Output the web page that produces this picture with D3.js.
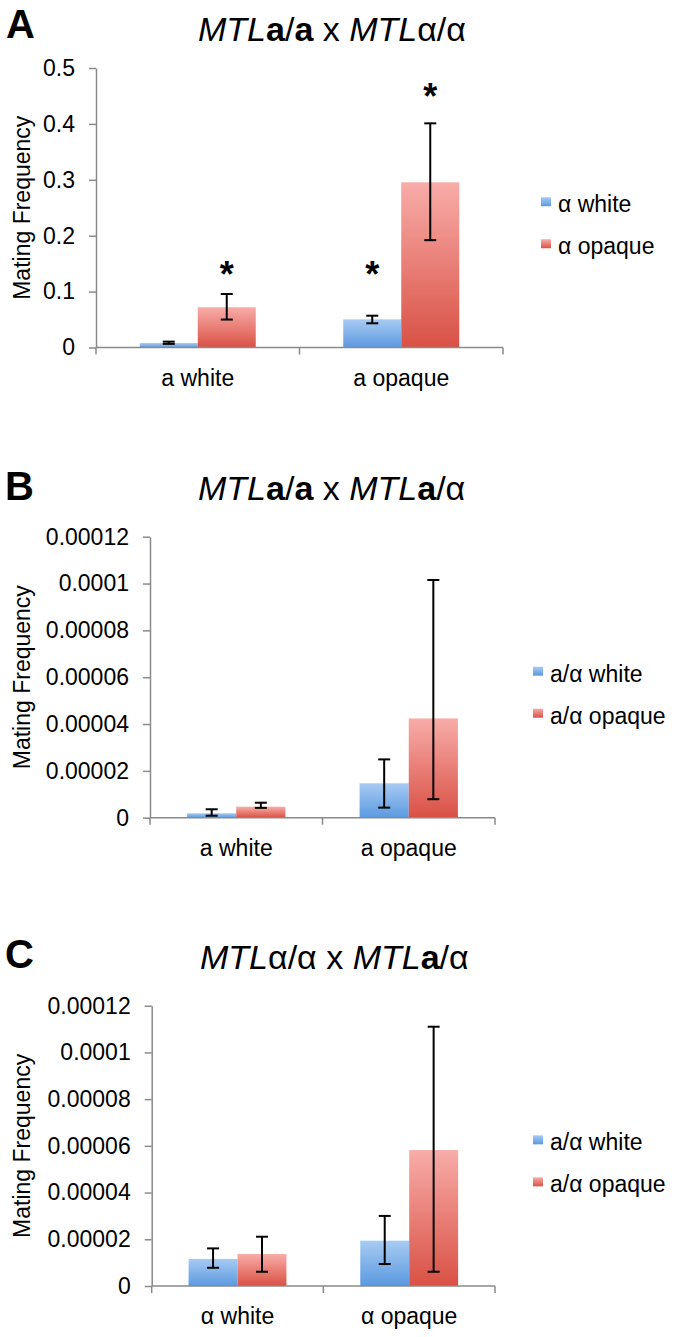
<!DOCTYPE html>
<html><head><meta charset="utf-8">
<script src="https://cdn.jsdelivr.net/npm/d3@7"></script>
<style>
html,body{margin:0;padding:0;background:#fff;}
svg{display:block;font-family:"Liberation Sans",Arial,Helvetica,sans-serif;}
</style></head>
<body>
<svg id="chart" width="676" height="1337"></svg>
<script>
// ---------- DATA ----------
const panelA_categories = ["a white", "a opaque"];
const panelA_series = ["α white", "α opaque"];
const panelA_white = [0.008, 0.0504];
const panelA_opaque = [0.072, 0.2955];
const panelA_whiteErr = [[0.0065, 0.0105], [0.0433, 0.0569]];
const panelA_opaqueErr = [[0.050, 0.0957], [0.192, 0.401]];
const panelA_whiteStars = [null, 0.144];
const panelA_opaqueStars = [0.144, 0.462];
const panelA_ticks = [0, 0.1, 0.2, 0.3, 0.4, 0.5];
const panelA_tickLabels = ["0", "0.1", "0.2", "0.3", "0.4", "0.5"];

const panelB_categories = ["a white", "a opaque"];
const panelB_series = ["a/α white", "a/α opaque"];
const panelB_white = [0.0000019, 0.0000147];
const panelB_opaque = [0.0000047, 0.0000424];
const panelB_whiteErr = [[0.00000085, 0.0000036], [0.0000043, 0.0000249]];
const panelB_opaqueErr = [[0.0000042, 0.0000064], [0.0000079, 0.0001015]];

const panelC_categories = ["α white", "α opaque"];
const panelC_series = ["a/α white", "a/α opaque"];
const panelC_white = [0.0000116, 0.0000194];
const panelC_opaque = [0.0000137, 0.0000582];
const panelC_whiteErr = [[0.0000078, 0.0000161], [0.0000094, 0.000030]];
const panelC_opaqueErr = [[0.0000061, 0.0000211], [0.0000061, 0.000111]];

const smallTicks = [0, 0.00002, 0.00004, 0.00006, 0.00008, 0.0001, 0.00012];
const smallTickLabels = ["0", "0.00002", "0.00004", "0.00006", "0.00008", "0.0001", "0.00012"];

const titleA = [["MTL", "i"], ["a", "b"], ["/", ""], ["a", "b"], [" x ", ""], ["MTL", "i"], ["α/α", ""]];
const titleB = [["MTL", "i"], ["a", "b"], ["/", ""], ["a", "b"], [" x ", ""], ["MTL", "i"], ["a", "b"], ["/α", ""]];
const titleC = [["MTL", "i"], ["α/α x ", ""], ["MTL", "i"], ["a", "b"], ["/α", ""]];

// ---------- DRAW ----------
const svg = d3.select("#chart");
const defs = svg.append("defs");
function grad(id, top, bottom) {
  const g = defs.append("linearGradient").attr("id", id)
    .attr("x1", 0).attr("y1", 0).attr("x2", 0).attr("y2", 1);
  g.append("stop").attr("offset", "0%").attr("stop-color", top);
  g.append("stop").attr("offset", "100%").attr("stop-color", bottom);
}
grad("gBlue", "#a8cbf3", "#5a99df");
grad("gRed", "#f8aca8", "#d95145");
const fills = ["url(#gBlue)", "url(#gRed)"];
const axisColor = "#8a8a8a";
const FS = 23;

function panel(cfg) {
  const g = svg.append("g");
  const { left, right, top, bottom } = cfg;
  // panel letter
  g.append("text").attr("x", cfg.labelX).attr("y", cfg.labelY)
    .attr("font-size", 40).attr("font-weight", "bold").attr("fill", "#000").text(cfg.letter);
  // title
  const t = g.append("text").attr("x", cfg.titleX).attr("y", cfg.titleY)
    .attr("font-size", 34).attr("fill", "#000");
  cfg.title.forEach(([s, st]) => {
    const sp = t.append("tspan").text(s);
    if (st === "i") sp.attr("font-style", "italic");
    if (st === "b") sp.attr("font-weight", "bold");
  });

  const y = d3.scaleLinear().domain([0, cfg.ticks[cfg.ticks.length - 1]]).range([bottom, top]);
  const x0 = d3.scaleBand().domain(cfg.categories).range([left, right]).padding(0);
  const bw = x0.bandwidth();
  const x1 = d3.scaleBand().domain(cfg.series).range([bw * 0.215, bw * 0.785]).padding(0);

  // y axis
  const ya = d3.axisLeft(y).tickValues(cfg.ticks)
    .tickFormat((d, i) => cfg.tickLabels[i]).tickSize(7).tickSizeOuter(0).tickPadding(14);
  const yg = g.append("g").attr("transform", `translate(${left},0)`).call(ya);
  yg.select(".domain").attr("stroke", axisColor).attr("stroke-width", 1.5);
  yg.selectAll(".tick line").attr("stroke", axisColor).attr("stroke-width", 1.5);
  yg.selectAll(".tick text").attr("font-size", FS).attr("fill", "#000")
    .attr("font-family", "Liberation Sans, Arial, sans-serif");

  // axis title
  g.append("text").attr("transform", `translate(30,${(top + bottom) / 2}) rotate(-90)`)
    .attr("text-anchor", "middle").attr("font-size", FS).attr("fill", "#000").text("Mating Frequency");

  // bars
  const valuesBySeries = [cfg.white, cfg.opaque];
  const errBySeries = [cfg.whiteErr, cfg.opaqueErr];
  const starsBySeries = [cfg.whiteStars, cfg.opaqueStars];
  cfg.categories.forEach((cat, ci) => {
    cfg.series.forEach((s, si) => {
      const v = valuesBySeries[si][ci];
      const bx = x0(cat) + x1(s);
      g.append("rect").attr("x", bx).attr("y", y(v))
        .attr("width", x1.bandwidth()).attr("height", y(0) - y(v)).attr("fill", fills[si]);
    });
  });

  // x axis
  const xg = g.append("g");
  xg.append("line").attr("x1", left).attr("x2", right).attr("y1", y(0)).attr("y2", y(0))
    .attr("stroke", axisColor).attr("stroke-width", 1.5);
  const edges = cfg.categories.map(c => x0(c)).concat([x0(cfg.categories[cfg.categories.length - 1]) + bw]);
  edges.forEach(ex => {
    xg.append("line").attr("x1", ex).attr("x2", ex).attr("y1", y(0)).attr("y2", y(0) + 7)
      .attr("stroke", axisColor).attr("stroke-width", 1.5);
  });
  const xa = d3.axisBottom(x0).tickSize(0).tickPadding(0);
  const xl = g.append("g").attr("transform", `translate(0,${y(0)})`).call(xa);
  xl.select(".domain").remove();
  xl.selectAll(".tick text").attr("font-size", FS).attr("fill", "#000")
    .attr("font-family", "Liberation Sans, Arial, sans-serif")
    .attr("dy", null).attr("y", 38);

  // error bars and stars
  cfg.categories.forEach((cat, ci) => {
    cfg.series.forEach((s, si) => {
      const cx = x0(cat) + x1(s) + x1.bandwidth() / 2;
      const [lo, hi] = errBySeries[si][ci];
      const eg = g.append("g").attr("stroke", "#000").attr("stroke-width", 2);
      eg.append("line").attr("x1", cx).attr("x2", cx).attr("y1", y(lo)).attr("y2", y(hi));
      eg.append("line").attr("x1", cx - 6).attr("x2", cx + 6).attr("y1", y(lo)).attr("y2", y(lo));
      eg.append("line").attr("x1", cx - 6).attr("x2", cx + 6).attr("y1", y(hi)).attr("y2", y(hi));
      const st = starsBySeries[si] ? starsBySeries[si][ci] : null;
      if (st != null) {
        g.append("text").attr("x", cx).attr("y", y(st) + 20).attr("text-anchor", "middle")
          .attr("font-size", 36).attr("font-weight", "bold").attr("fill", "#000").text("*");
      }
    });
  });

  // legend
  const cy = (top + bottom) / 2;
  cfg.series.forEach((s, si) => {
    const base = cy + 4.5 + si * 42;
    g.append("rect").attr("x", right + 38).attr("y", base - 15).attr("width", 10).attr("height", 9)
      .attr("fill", fills[si]);
    g.append("text").attr("x", right + 55).attr("y", base).attr("font-size", FS).attr("fill", "#000").text(s);
  });
}

panel({
  letter: "A", labelX: 6, labelY: 38, title: titleA, titleX: 198, titleY: 41,
  left: 96, right: 503, top: 68, bottom: 347.5,
  categories: panelA_categories, series: panelA_series,
  white: panelA_white, opaque: panelA_opaque,
  whiteErr: panelA_whiteErr, opaqueErr: panelA_opaqueErr,
  whiteStars: panelA_whiteStars, opaqueStars: panelA_opaqueStars,
  ticks: panelA_ticks, tickLabels: panelA_tickLabels
});
panel({
  letter: "B", labelX: 5, labelY: 500, title: titleB, titleX: 198, titleY: 499.5,
  left: 150, right: 495, top: 536.7, bottom: 817.7,
  categories: panelB_categories, series: panelB_series,
  white: panelB_white, opaque: panelB_opaque,
  whiteErr: panelB_whiteErr, opaqueErr: panelB_opaqueErr,
  ticks: smallTicks, tickLabels: smallTickLabels
});
panel({
  letter: "C", labelX: 5, labelY: 968, title: titleC, titleX: 200, titleY: 968.5,
  left: 151.7, right: 495, top: 1005.7, bottom: 1286,
  categories: panelC_categories, series: panelC_series,
  white: panelC_white, opaque: panelC_opaque,
  whiteErr: panelC_whiteErr, opaqueErr: panelC_opaqueErr,
  ticks: smallTicks, tickLabels: smallTickLabels
});
</script>
</body></html>
